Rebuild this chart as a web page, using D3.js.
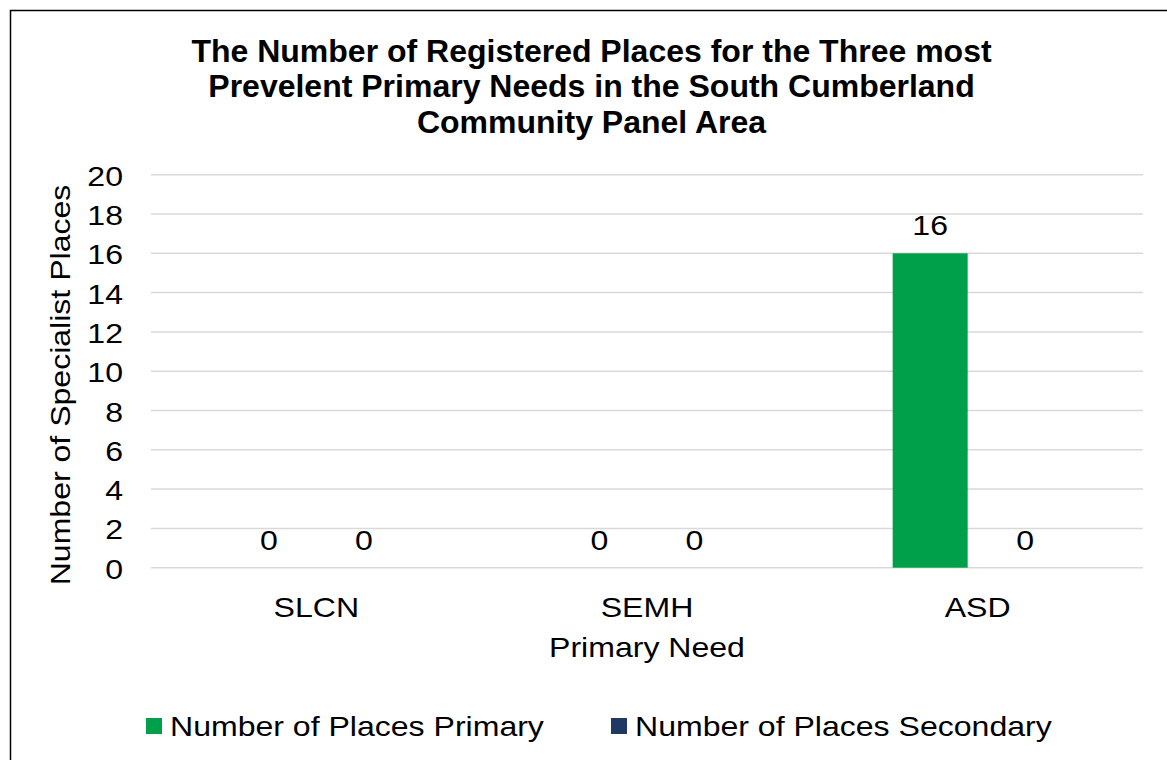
<!DOCTYPE html>
<html>
<head>
<meta charset="utf-8">
<script src="https://cdn.jsdelivr.net/npm/d3@7"></script>
<style>
  html, body { margin: 0; padding: 0; background: #fff; }
  svg { display: block; font-family: "Liberation Sans", Arial, sans-serif; }
</style>
</head>
<body>
<svg id="chart" width="1167" height="760"></svg>
<script>
// chart data
const categories = ["SLCN", "SEMH", "ASD"];
const seriesNames = ["Number of Places Primary", "Number of Places Secondary"];
const primaryPlaces = [0, 0, 16];
const secondaryPlaces = [0, 0, 0];
const yTicks = [0, 2, 4, 6, 8, 10, 12, 14, 16, 18, 20];
const titleLines = [
  "The Number of Registered Places for the Three most",
  "Prevelent Primary Needs in the South Cumberland",
  "Community Panel Area"
];

const COLORS = ["#00A04B", "#1F3864"];

const svg = d3.select("#chart");
const W = 1167, H = 760;
const plot = { left: 151, right: 1143, top: 174.7, bottom: 567.7 };

// body text in the source is a bit wider than plain Arial, so stretch it
const FS = 28, SX = 1.145;
function label(sel, x, y, anchor) {
  return sel.attr("transform", (d, i) =>
      `translate(${typeof x === "function" ? x(d, i) : x},${typeof y === "function" ? y(d, i) : y}) scale(${SX},1)`)
    .attr("text-anchor", anchor || "middle")
    .attr("font-size", FS);
}

// outer chart border (only top and left edges fall inside the frame)
svg.append("rect")
  .attr("x", 10.5).attr("y", 10.5)
  .attr("width", W + 20).attr("height", H + 20)
  .attr("fill", "none").attr("stroke", "#000").attr("stroke-width", 1.5);

// title
svg.append("g").selectAll("text")
  .data(titleLines)
  .join("text")
  .attr("x", 591.5).attr("y", (d, i) => 61.5 + i * 35.5)
  .attr("text-anchor", "middle")
  .attr("font-size", 32).attr("font-weight", "bold")
  .text(d => d);

const x = d3.scaleBand().domain(categories).range([plot.left, plot.right]);
const y = d3.scaleLinear().domain([0, 20]).range([plot.bottom, plot.top]);

// gridlines
svg.append("g").selectAll("line")
  .data(yTicks)
  .join("line")
  .attr("x1", plot.left).attr("x2", plot.right)
  .attr("y1", d => y(d)).attr("y2", d => y(d))
  .attr("stroke", "#d9d9d9").attr("stroke-width", 1.5);

// y tick labels
svg.append("g").selectAll("text")
  .data(yTicks)
  .join("text")
  .call(label, 123, d => y(d) + 11, "end")
  .text(d => d);

// bars: two series per category, 75px wide, 95px apart
const barW = 75, offset = 47.5;
const series = [primaryPlaces, secondaryPlaces];
series.forEach((vals, s) => {
  const g = svg.append("g");
  const cx = (d, i) => x(categories[i]) + x.bandwidth() / 2 + (s === 0 ? -offset : offset);
  g.selectAll("rect")
    .data(vals)
    .join("rect")
    .attr("x", (d, i) => cx(d, i) - barW / 2)
    .attr("width", barW)
    .attr("y", d => y(d))
    .attr("height", d => y(0) - y(d))
    .attr("fill", COLORS[s]);
  g.selectAll("text")
    .data(vals)
    .join("text")
    .call(label, cx, d => y(d) - 18)
    .text(d => d);
});

// x category labels
svg.append("g").selectAll("text")
  .data(categories)
  .join("text")
  .call(label, d => x(d) + x.bandwidth() / 2, 616.5)
  .text(d => d);

// axis titles
svg.append("text")
  .call(label, 647, 656.5)
  .text("Primary Need");

svg.append("text")
  .attr("transform", `translate(70,385) rotate(-90) scale(${SX},1)`)
  .attr("text-anchor", "middle")
  .attr("font-size", FS)
  .text("Number of Specialist Places");

// legend
const legendX = [146, 611];
const legend = svg.append("g").selectAll("g")
  .data(seriesNames)
  .join("g")
  .attr("transform", (d, i) => `translate(${legendX[i]},726)`);
legend.append("rect")
  .attr("x", 0).attr("y", -8)
  .attr("width", 16).attr("height", 16)
  .attr("fill", (d, i) => COLORS[i]);
legend.append("text")
  .call(label, 24, 10, "start")
  .text(d => d);
</script>
</body>
</html>
